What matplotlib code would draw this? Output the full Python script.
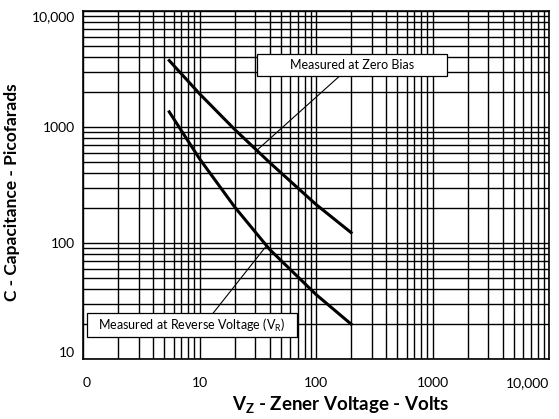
import numpy as np
import matplotlib
matplotlib.use('Agg')
import matplotlib.pyplot as plt
from matplotlib.patches import Rectangle

plt.rcParams['font.family'] = ['Lato', 'DejaVu Sans']
plt.rcParams['mathtext.fontset'] = 'custom'
plt.rcParams['mathtext.rm'] = 'Lato'
plt.rcParams['mathtext.bf'] = 'Lato:bold'

# zener voltage (V) vs capacitance (pF)
zero_bias_v = [5.5, 10, 20, 40, 100, 200]
zero_bias_c = [3740, 1936, 955, 494, 215, 123]

reverse_v = [5.5, 10, 20, 40, 100, 200]
reverse_c = [1350, 533, 205, 88, 36, 20]

x_ticks = [1, 10, 100, 1000, 10000]
x_tick_labels = ['0', '10', '100', '1000', '10,000']
y_ticks = [10, 100, 1000, 10000]
y_tick_labels = ['10', '100', '1000', '10,000']

fig = plt.figure(figsize=(5.59, 4.19), dpi=100)
ax = fig.add_axes([83/559, 60/419, 466/559, 348/419])

ax.set_xscale('log')
ax.set_yscale('log')
ax.set_xlim(1, 10000)
ax.set_ylim(10, 10000)

ax.grid(which='both', color='black', linewidth=1.0)
ax.set_axisbelow(True)

ax.plot(zero_bias_v, zero_bias_c, color='black', linewidth=2.2, zorder=3)
ax.plot(reverse_v, reverse_c, color='black', linewidth=2.2, zorder=3)

ax.set_xticks(x_ticks)
ax.set_xticklabels(x_tick_labels, fontsize=10)
ax.set_yticks(y_ticks)
ax.set_yticklabels(y_tick_labels, fontsize=10)
ax.minorticks_on()
ax.tick_params(which='both', length=0)
ax.tick_params(axis='x', pad=13)
ax.tick_params(axis='y', pad=6)

xl = ax.get_xticklabels()
xl[0].set_ha('left')
xl[-1].set_ha('right')
yl = ax.get_yticklabels()
yl[0].set_va('bottom')
yl[-1].set_va('top')

for s in ax.spines.values():
    s.set_linewidth(1.2)
    s.set_color('black')

# label boxes with leader lines
ax.add_patch(Rectangle((0.3727, 0.8141), 0.4078, 0.0615, transform=ax.transAxes,
                       facecolor='white', edgecolor='black', linewidth=0.9, zorder=5))
ax.text(0.5766, 0.8448, 'Measured at Zero Bias', transform=ax.transAxes,
        ha='center', va='center', fontsize=9, zorder=6)
ax.annotate('', xy=(30, 610), xycoords='data', xytext=(0.5515, 0.8141),
            textcoords='axes fraction',
            arrowprops=dict(arrowstyle='-', color='black', linewidth=0.8, shrinkA=0, shrinkB=0),
            zorder=4)

ax.add_patch(Rectangle((0.0079, 0.0641), 0.4507, 0.0672, transform=ax.transAxes,
                       facecolor='white', edgecolor='black', linewidth=0.9, zorder=5))
ax.text(0.2333, 0.0977, r'Measured at Reverse Voltage (V$_\mathrm{R}$)', transform=ax.transAxes,
        ha='center', va='center', fontsize=9, zorder=6)
ax.annotate('', xy=(38, 96), xycoords='data', xytext=(0.279, 0.1313),
            textcoords='axes fraction',
            arrowprops=dict(arrowstyle='-', color='black', linewidth=0.8, shrinkA=0, shrinkB=0),
            zorder=4)

fig.text(341/559, 1 - 405/419, r'V$_\mathbf{Z}$ - Zener Voltage - Volts',
         ha='center', va='center', fontsize=13.5, fontweight='bold')
fig.text(12/559, 1 - 192/419, 'C - Capacitance - Picofarads', rotation=90,
         ha='center', va='center', fontsize=12.5, fontweight='bold')

fig.savefig('out.png', dpi=100)
